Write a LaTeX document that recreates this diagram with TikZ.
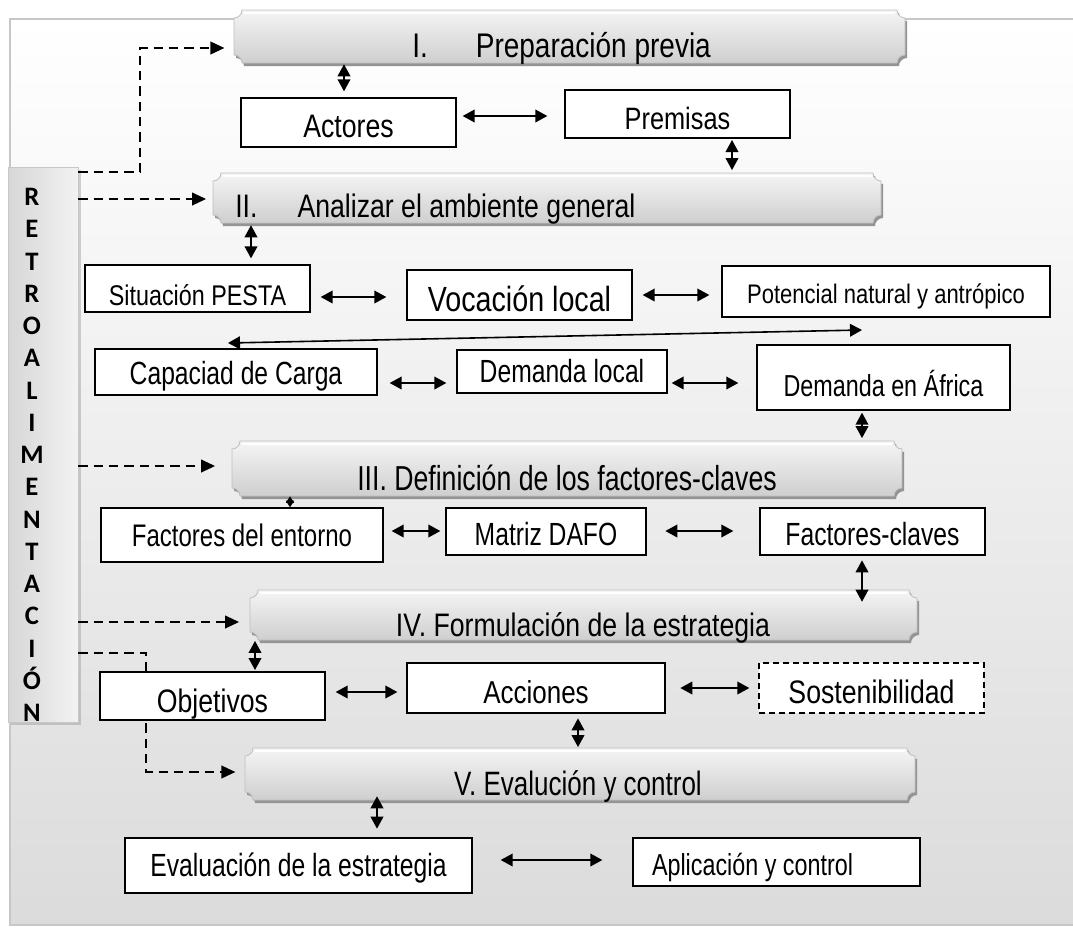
\documentclass[tikz,border=0pt]{standalone}
\usepackage{fontspec}
\setmainfont{Liberation Sans}
\newfontfamily\carl{Carlito}
\usetikzlibrary{arrows.meta,shadows}
\newcommand\fsz[1]{\fontsize{#1}{#1}\selectfont}
\newcommand\tn[1]{\scalebox{1}[1.22]{#1}}
\newcommand\tl[1]{\scalebox{1}[1.3]{#1}}
\newcommand\tk[5]{\path[#1] ({#2},{#3+8}) .. controls ({#2+4.4},{#3+8}) and ({#2+8},{#3+4.4}) .. ({#2+8},{#3}) -- ({#4-8},{#3}) .. controls ({#4-8},{#3+4.4}) and ({#4-4.4},{#3+8}) .. ({#4},{#3+8}) -- ({#4},{#5-8}) .. controls ({#4-4.4},{#5-8}) and ({#4-8},{#5-4.4}) .. ({#4-8},{#5}) -- ({#2+8},{#5}) .. controls ({#2+8},{#5-4.4}) and ({#2+4.4},{#5-8}) .. ({#2},{#5-8}) -- cycle;}
\newcommand\bn[5]{%
 \tk{fill=black!42,shift={(2,3)}}{#2}{#3}{#4}{#5}
 \tk{top color=black!4,bottom color=black!19,draw=black!25,line width=0.6pt}{#2}{#3}{#4}{#5}
 \draw[white,line width=1.2pt] ({#2+10},{#3+3}) -- ({#4-10},{#3+3});
 \pgfmathsetmacro\bxw{(#4-#2)*0.75}\pgfmathsetmacro\bxh{(#5-#3)*0.75}
 \node[inner sep=0pt,minimum width=\bxw pt,minimum height=\bxh pt] (#1) at ({(#2+#4)/2},{(#3+#5)/2}) {};
}
\newcommand\bx[9][]{%
 \pgfmathsetmacro\bxw{(#5-#3)*0.75}\pgfmathsetmacro\bxh{(#6-#4)*0.75}%
 \pgfmathsetmacro\bxt{max(0,(#7-(#4+#6)/2)*1.5)}%
 \node[bxs,#1,minimum width=\bxw pt,minimum height=\bxh pt,text height=\bxt pt,font=\fsz{#8}] (#2) at ({(#3+#5)/2},{(#4+#6)/2}) {#9};}
\begin{document}
\begin{tikzpicture}[x=0.75pt,y=-0.75pt,
  bxs/.style={draw=black,line width=1pt,fill=white,inner sep=0pt,text depth=0pt},
  dbl/.style={{Triangle[length=9pt,width=9.5pt]}-{Triangle[length=9pt,width=9.5pt]},line width=1.2pt},
  dsh/.style={-{Triangle[length=10.5pt,width=9.5pt]},dash pattern=on 7pt off 4.5pt,line width=1.4pt},
  btxt/.style={anchor=base,inner sep=0pt}]
\useasboundingbox (0,0) rectangle (1073,933);
\path[top color=white,bottom color=black!14,draw=black!22,line width=0.8pt] (10,19) rectangle (1085,925);

% banners
\bn{I}{234}{10}{905}{63}
\bn{II}{213}{173}{881}{223}
\bn{III}{232}{441}{902}{496}
\bn{IV}{250}{590}{917}{640}
\bn{V}{245}{748}{915}{800}

\node[btxt,anchor=base west,font=\fsz{21}] (Itxt) at (412,57) {\tn{I.\hspace{36pt}Preparación previa}};
\node[btxt,anchor=base west,font=\fsz{20}] (IItxt) at (235,217) {\tn{II.\hspace{30pt}Analizar el ambiente general}};
\node[btxt,font=\fsz{20}] (IIItxt) at (567,490) {\tl{III. Definición de los factores-claves}};
\node[btxt,font=\fsz{20}] (IVtxt) at (583,636) {\tn{IV. Formulación de la estrategia}};
\node[btxt,font=\fsz{19.5}] (Vtxt) at (578,795) {\tl{V. Evalución y control}};

% feedback bar
\node[draw=black!22,left color=black!16,right color=black!5,minimum width=52.5pt,minimum height=416.25pt,inner sep=0pt,
  drop shadow={opacity=0.35,shadow xshift=2pt,shadow yshift=-2pt}] (bar) at (43,444.5) {};
\node[align=center,inner sep=0pt,font=\carl\bfseries\fontsize{20}{24.2}\selectfont] (retro) at (32,455)
 {R\\E\\T\\R\\O\\A\\L\\I\\M\\E\\N\\T\\A\\C\\I\\Ó\\N};

% dashed feedback connectors
\coordinate (kI) at (140,48);
\coordinate (yI) at (0,172);
\coordinate (yII) at (0,199);
\coordinate (yIII) at (0,466);
\coordinate (yIV) at (0,622);
\coordinate (kV) at (146,653);
\coordinate (yV) at (0,772);
\draw[dsh,shorten >=7pt] (bar.east |- yI) -- (kI |- yI) -- (kI) -- (I.west |- kI);
\draw[dsh,shorten >=5pt] (bar.east |- yII) -- (II.west |- yII);
\draw[dsh,shorten >=12.5pt] (bar.east |- yIII) -- (III.west |- yIII);
\draw[dsh,shorten >=8pt] (bar.east |- yIV) -- (IV.west |- yIV);
\draw[dsh,shorten >=7pt] (bar.east |- kV) -- (kV) -- (kV |- yV) -- (V.west |- yV);

% boxes
\bx{act}{241}{98}{456}{147}{137}{20}{\tn{Actores}}
\bx{prem}{565}{90}{790}{138}{129}{19}{\tn{Premisas}}
\bx{pesta}{85}{265}{310}{312}{305}{17.5}{\tn{Situación PESTA}}
\bx{voc}{407}{270}{632}{320}{311}{21.5}{\tn{Vocación local}}
\bx{pot}{722}{266}{1050}{317}{303}{16.5}{\tn{Potencial natural y antrópico}}
\bx{cap}{95}{349}{377}{395}{384}{18.5}{\tl{Capaciad de Carga}}
\bx{dloc}{457}{350}{667}{393}{382}{18.5}{\tl{Demanda local}}
\bx{dafr}{757}{345}{1010}{410}{396}{17.5}{\tl{Demanda en África}}
\bx{fent}{101}{508}{383}{562}{546}{18}{\tl{Factores del entorno}}
\bx{dafo}{446}{508}{646}{555}{545}{18.5}{\tl{Matriz DAFO}}
\bx{fcl}{760}{508}{985}{555}{545}{18.5}{\tl{Factores-claves}}
\bx{obj}{100}{672}{325}{720}{712}{20}{\tn{Objetivos}}
\bx{acc}{407}{663}{665}{713}{703}{19.5}{\tn{Acciones}}
\bx[dashed,dash pattern=on 4.5pt off 3pt]{sost}{759}{663}{984}{713}{703.5}{20}{\tn{Sostenibilidad}}
\bx{eval}{125}{838}{472}{893}{876}{18.5}{\tl{Evaluación de la estrategia}}
\bx{apl}{633}{838}{920}{886}{875}{17.5}{\tl{\hspace*{-36pt}Aplicación y control}}

% x / y guides for connectors
\coordinate (xa) at (344,0);
\coordinate (xb) at (732,0);
\coordinate (xc) at (251,0);
\coordinate (xd) at (862,0);
\coordinate (xe) at (290,0);
\coordinate (xg) at (255,0);
\coordinate (xh) at (578,0);
\coordinate (xi) at (377,0);
\coordinate (ya) at (0,116);
\coordinate (yb) at (0,297);
\coordinate (yc) at (0,295);
\coordinate (ye) at (0,383);
\coordinate (yf) at (0,531);
\coordinate (yg) at (0,692);
\coordinate (yh) at (0,688);
\coordinate (yi) at (0,860);
\coordinate (dL) at (228,343);
\coordinate (dR) at (862,330);

% vertical connectors
\draw[dbl,shorten <=0.75pt,shorten >=4.5pt] (I.south -| xa) -- (act.north -| xa);
\draw[dbl,shorten <=1pt,shorten >=2pt] (prem.south -| xb) -- (II.north -| xb);
\draw[dbl,shorten <=1.5pt,shorten >=4.5pt] (II.south -| xc) -- (pesta.north -| xc);
\draw[dbl,shorten <=1.5pt,shorten >=2pt] (dafr.south -| xd) -- (III.north -| xd);
\draw[dbl,{Triangle[length=5pt,width=6pt]}-{Triangle[length=5pt,width=6pt]}] (III.south -| xe) -- (fent.north -| xe);
\draw[dbl,shorten <=3.5pt,shorten >=-9pt] (fcl.south -| xd) -- (IV.north -| xd);
\draw[dbl,shorten <=0.5pt,shorten >=1pt] (IV.south -| xg) -- (obj.north -| xg);
\draw[dbl,shorten <=3.5pt,shorten >=0.5pt] (acc.south -| xh) -- (V.north -| xh);
\draw[dbl,shorten <=-3pt,shorten >=6.5pt] (V.south -| xi) -- (eval.north -| xi);

% horizontal connectors
\draw[dbl,shorten <=4.5pt,shorten >=12.75pt] (act.east |- ya) -- (prem.west |- ya);
\draw[dbl,shorten <=7.5pt,shorten >=15pt] (pesta.east |- yb) -- (voc.west |- yb);
\draw[dbl,shorten <=7.5pt,shorten >=9pt] (voc.east |- yc) -- (pot.west |- yc);
\draw[dbl] (dL) -- (dR);
\draw[dbl,shorten <=9pt,shorten >=7.5pt] (cap.east |- ye) -- (dloc.west |- ye);
\draw[dbl,shorten <=3pt,shorten >=13.5pt] (dloc.east |- ye) -- (dafr.west |- ye);
\draw[dbl,shorten <=6pt,shorten >=3.75pt] (fent.east |- yf) -- (dafo.west |- yf);
\draw[dbl,shorten <=14pt,shorten >=19.5pt] (dafo.east |- yf) -- (fcl.west |- yf);
\draw[dbl,shorten <=7.5pt,shorten >=6.75pt] (obj.east |- yg) -- (acc.west |- yg);
\draw[dbl,shorten <=11pt,shorten >=6.75pt] (acc.east |- yh) -- (sost.west |- yh);
\draw[dbl,shorten <=21pt,shorten >=22.5pt] (eval.east |- yi) -- (apl.west |- yi);
\end{tikzpicture}
\end{document}
